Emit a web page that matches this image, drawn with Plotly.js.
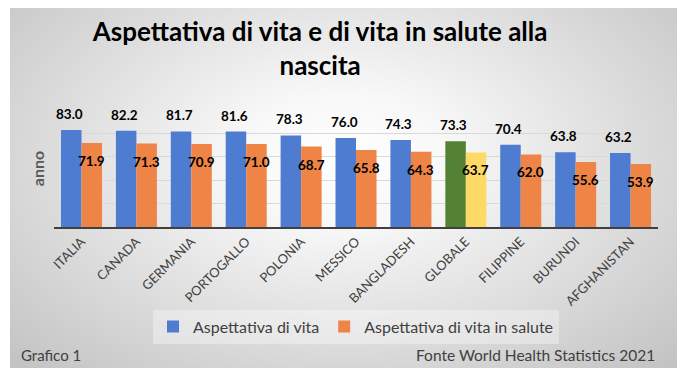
<!DOCTYPE html>
<html>
<head>
<meta charset="utf-8">
<script src="https://cdn.plot.ly/plotly-3.0.1.min.js"></script>
<style>
  html, body { margin: 0; padding: 0; background: #ffffff; }
  #wrap { position: relative; width: 687px; height: 375px; }
  #bg { position: absolute; left: 10px; top: 8px; width: 667px; height: 360px;
        background: radial-gradient(ellipse farthest-corner at 50% 42%, #ffffff 0%, #f8f8f8 22%, #c2c2c2 100%); }
  #chart { position: absolute; left: 0; top: 0; width: 687px; height: 375px; }
</style>
</head>
<body>
<div id="wrap"><div id="bg"></div><div id="chart"></div></div>
<script>
const categories = ["ITALIA", "CANADA", "GERMANIA", "PORTOGALLO", "POLONIA", "MESSICO", "BANGLADESH", "GLOBALE", "FILIPPINE", "BURUNDI", "AFGHANISTAN"];
const lifeExpectancy = [83.0, 82.2, 81.7, 81.6, 78.3, 76.0, 74.3, 73.3, 70.4, 63.8, 63.2];
const healthyLifeExpectancy = [71.9, 71.3, 70.9, 71.0, 68.7, 65.8, 64.3, 63.7, 62.0, 55.6, 53.9];
const seriesNames = ["Aspettativa di vita", "Aspettativa di vita in salute"];
const highlight = "GLOBALE";

const BLUE = "#4d7cd1", ORANGE = "#ee8546", GREEN = "#548235", YELLOW = "#ffd966";
const FONT = "Lato, 'Open Sans', sans-serif";

const blueColors = categories.map(c => c === highlight ? GREEN : BLUE);
const orangeColors = categories.map(c => c === highlight ? YELLOW : ORANGE);

const traces = [
  { type: "bar", name: seriesNames[0], x: categories, y: lifeExpectancy,
    marker: { color: blueColors }, hoverinfo: "x+y" },
  { type: "bar", name: seriesNames[1], x: categories, y: healthyLifeExpectancy,
    marker: { color: orangeColors }, hoverinfo: "x+y" }
];

const labelFont = { family: FONT, size: 13.5, color: "#000000", weight: "bold" };
const annotations = [];
categories.forEach((c, i) => {
  annotations.push({ x: c, y: lifeExpectancy[i], xref: "x", yref: "y",
    text: "<b>" + lifeExpectancy[i].toFixed(1) + "</b>", showarrow: false,
    xshift: -12, yshift: 16, yanchor: "middle", font: labelFont });
  annotations.push({ x: c, y: healthyLifeExpectancy[i], xref: "x", yref: "y",
    text: "<b>" + healthyLifeExpectancy[i].toFixed(1) + "</b>", showarrow: false,
    xshift: 10, yshift: -18, yanchor: "middle", font: labelFont });
});
annotations.push({ xref: "paper", yref: "paper", x: -0.058, y: -1.098, xanchor: "left", yanchor: "middle",
  text: "Grafico 1", showarrow: false, font: { family: FONT, size: 15, color: "#404040" } });
annotations.push({ xref: "paper", yref: "paper", x: 0.998, y: -1.098, xanchor: "right", yanchor: "middle",
  text: "Fonte World Health Statistics 2021", showarrow: false, font: { family: FONT, size: 15.5, color: "#404040" } });

const layout = {
  width: 687, height: 375,
  margin: { l: 54, r: 29, t: 109.5, b: 148 },
  paper_bgcolor: "rgba(0,0,0,0)",
  plot_bgcolor: "rgba(0,0,0,0)",
  title: { text: "<b>Aspettativa di vita e di vita in salute alla<br>nascita</b>",
           x: 0.466, xanchor: "center", y: 0.89, yanchor: "top",
           font: { family: FONT, size: 26, color: "#000000" } },
  barmode: "group", bargap: 0.253, bargroupgap: 0,
  xaxis: { type: "category", tickangle: -45, showline: true, linecolor: "#404040", linewidth: 2,
           ticks: "", tickfont: { family: FONT, size: 13, color: "#404040" }, showgrid: false },
  yaxis: { range: [0, 100], dtick: 20, showticklabels: false, showgrid: true, gridcolor: "#d9d9d9",
           gridwidth: 1, zeroline: false, ticks: "",
           title: { text: "anno", standoff: 4, font: { family: FONT, size: 16, color: "#595959", weight: "bold" } } },
  legend: { orientation: "h", x: 0.5, xanchor: "center", y: -0.851, yanchor: "middle",
            bgcolor: "rgba(255,255,255,0.35)", font: { family: FONT, size: 16, color: "#404040" },
            itemwidth: 30, traceorder: "normal" },
  annotations: annotations,
  showlegend: true
};

Plotly.newPlot("chart", traces, layout, { displayModeBar: false, responsive: false });
</script>
</body>
</html>
